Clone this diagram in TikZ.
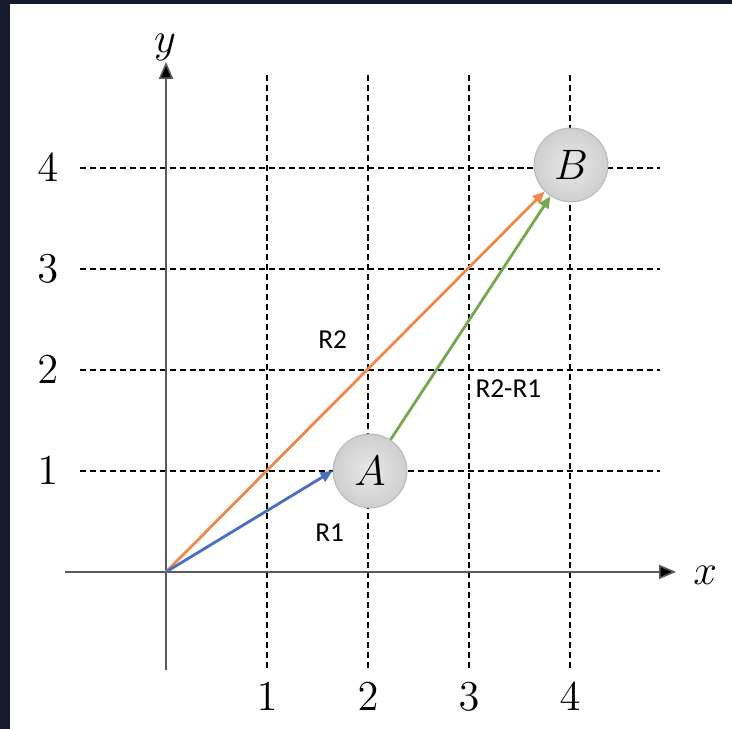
\documentclass[tikz,border=0pt]{standalone}
\usepackage{fontspec}
\usepackage{tikz}
\usetikzlibrary{arrows.meta}
\newfontfamily\labelfont{Carlito}
\definecolor{frameDark}{HTML}{151B2C}
\definecolor{vecBlue}{HTML}{4A6FC0}
\definecolor{vecOrange}{HTML}{EC8A4C}
\definecolor{vecGreen}{HTML}{76A84E}
\definecolor{axisGray}{HTML}{5A5A5A}

\begin{document}
\begin{tikzpicture}[
    gridline/.style={dash pattern=on 1.7pt off 1.1pt, line width=0.4pt, black},
    axisline/.style={axisGray, line width=0.45pt, -{Triangle[length=4.8pt, width=4pt, fill=black]}},
    ball/.style={circle, minimum size=0.73cm, inner sep=0pt, draw=gray!55, line width=0.3pt,
        inner color=gray!18, outer color=gray!38, font=\fontsize{12.5}{14}\selectfont},
    vec/.style={line width=0.8pt, -{Triangle[length=3.4pt, width=2.9pt]}},
    vlabel/.style={font=\labelfont\fontsize{7.7}{9}\selectfont},
    ticklabel/.style={font=\fontsize{12.5}{14}\selectfont}
]
    % frame
    \fill[frameDark] (-1.644,-1.554) rectangle (5.604,5.663);
    \fill[white] (-1.545,-1.554) rectangle (5.604,5.624);
    \useasboundingbox (-1.644,-1.554) rectangle (5.604,5.663);

    % grid
    \foreach \x in {1,...,4}
        \draw[gridline] (\x,-0.95) -- (\x,4.92);
    \foreach \y in {1,...,4}
        \draw[gridline] (-0.85,\y) -- (4.89,\y);

    % axes
    \draw[axisline] (-1.0,0) -- (5.05,0);
    \draw[axisline] (0,-0.97) -- (0,5.05);
    \node[ticklabel] (xlab) at (5.34,-0.03) {\(x\)};
    \node[ticklabel] (ylab) at (-0.01,5.19) {\(y\)};

    \foreach \x in {1,...,4}
        \node[ticklabel] (xt\x) at (\x,-1.24) {\(\x\)};
    \foreach \y in {1,...,4}
        \node[ticklabel] (yt\y) at (-1.17,\y) {\(\y\)};

    % points and vectors
    \coordinate (O) at (0,0);
    \node[ball] (A) at (2.02,1.0) {\(A\)};
    \node[ball] (B) at (4.01,4.03) {\(B\)};

    \draw[vec, vecOrange] (O) -- (B);
    \draw[vec, vecBlue] (O) -- (A.west);
    \draw[vec, vecGreen] (A) -- (B);

    \node[vlabel] (r2) at (1.65,2.30) {R2};
    \node[vlabel] (r1) at (1.62,0.39) {R1};
    \node[vlabel] (r21) at (3.39,1.81) {R2-R1};
\end{tikzpicture}
\end{document}
